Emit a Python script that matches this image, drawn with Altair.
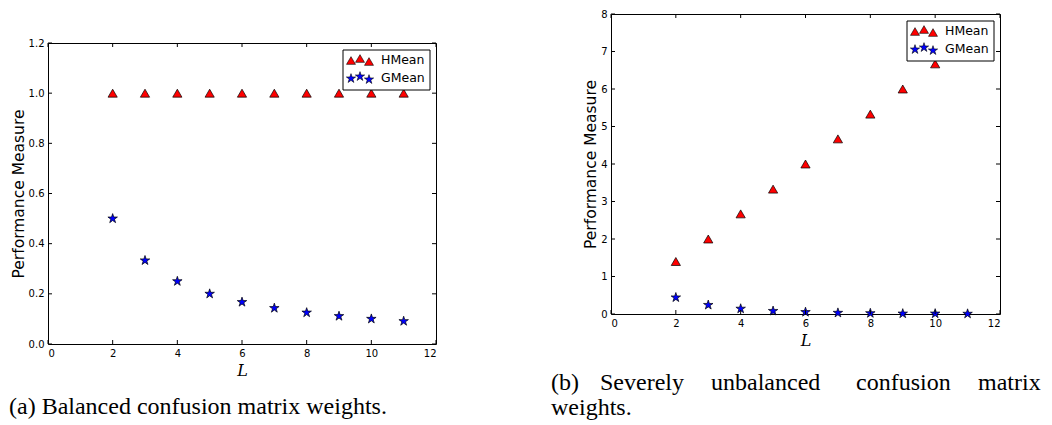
import altair as alt
import pandas as pd

# ---- data ----
L_vals = [2, 3, 4, 5, 6, 7, 8, 9, 10, 11]
hmean_a = [1.0, 1.0, 1.0, 1.0, 1.0, 1.0, 1.0, 1.0, 1.0, 1.0]
gmean_a = [0.5, 0.333, 0.25, 0.2, 0.167, 0.143, 0.125, 0.111, 0.1, 0.091]
hmean_b = [1.4, 2.0, 2.67, 3.33, 4.0, 4.67, 5.33, 6.0, 6.67, 7.33]
gmean_b = [0.44, 0.24, 0.14, 0.08, 0.05, 0.03, 0.02, 0.01, 0.01, 0.005]

x_ticks = [0, 2, 4, 6, 8, 10, 12]
y_ticks_a = [0.0, 0.2, 0.4, 0.6, 0.8, 1.0, 1.2]
y_ticks_b = [0, 1, 2, 3, 4, 5, 6, 7, 8]

STAR = ("M0,-1L0.2245,-0.309L0.9511,-0.309L0.3633,0.118L0.5878,0.809L0,0.382"
        "L-0.5878,0.809L-0.3633,0.118L-0.9511,-0.309L-0.2245,-0.309Z")

series_names = ["HMean", "GMean"]
series_shapes = ["triangle-up", STAR]
series_colors = ["#ff0000", "#0000ff"]

# caption words (b) line 1 is justified, so each word is placed on its own
caption_a = [("(a) Balanced confusion matrix weights.", -39, 0)]
caption_b = [("(b)", -60, 0), ("Severely", -11, 0), ("unbalanced", 100, 0),
             ("confusion", 245, 0), ("matrix", 367, 0), ("weights.", -60, 25)]

y_title = "Performance Measure"
x_title = "L"

SANS = "DejaVu Sans"
SERIF = "Liberation Serif"


def panel(hm, gm, ydom, yticks, yfmt, W, H, caption, cap_y0):
    xs = alt.Scale(domain=[0, 12], nice=False, zero=False)
    ys = alt.Scale(domain=ydom, nice=False, zero=False)
    xaxis = alt.Axis(values=x_ticks, title=x_title, format="d")
    yaxis = alt.Axis(values=yticks, title=y_title, format=yfmt)

    layers = []
    for name, vals, shp, col, sz in zip(series_names, [hm, gm], series_shapes,
                                        series_colors, [85, 100]):
        df = pd.DataFrame({"L": L_vals, "value": vals})
        layers.append(
            alt.Chart(df).mark_point(shape=shp, filled=True, fill=col, stroke="black",
                                     strokeWidth=0.7, size=sz, opacity=1)
            .encode(x=alt.X("L:Q", scale=xs, axis=xaxis),
                    y=alt.Y("value:Q", scale=ys, axis=yaxis))
        )

    # inward ticks on all four sides
    xt = pd.DataFrame({"L": x_ticks})
    yt = pd.DataFrame({"value": yticks})
    tk = dict(color="black", strokeWidth=1)
    layers.append(alt.Chart(xt).mark_rule(**tk).encode(
        x=alt.X("L:Q", scale=xs, axis=xaxis), y=alt.value(H), y2=alt.value(H - 4)))
    layers.append(alt.Chart(xt).mark_rule(**tk).encode(
        x=alt.X("L:Q", scale=xs, axis=xaxis), y=alt.value(0), y2=alt.value(4)))
    layers.append(alt.Chart(yt).mark_rule(**tk).encode(
        y=alt.Y("value:Q", scale=ys, axis=yaxis), x=alt.value(0), x2=alt.value(4)))
    layers.append(alt.Chart(yt).mark_rule(**tk).encode(
        y=alt.Y("value:Q", scale=ys, axis=yaxis), x=alt.value(W - 4), x2=alt.value(W)))

    one = pd.DataFrame({"a": [0]})
    # legend box
    bx0, bx1, by0, by1 = W - 93, W - 6, 7, 47
    layers.append(alt.Chart(one).mark_rect(fill="white", stroke="black", strokeWidth=1).encode(
        x=alt.value(bx0), x2=alt.value(bx1), y=alt.value(by0), y2=alt.value(by1)))
    offs = [0.5, -1.5, 1.5]
    for i, (name, shp, col, sz) in enumerate(zip(series_names, series_shapes,
                                                series_colors, [80, 95])):
        ry = by0 + 10 + 18 * i
        for j, dy in enumerate(offs):
            layers.append(alt.Chart(one).mark_point(shape=shp, filled=True, fill=col,
                                                    stroke="black", strokeWidth=0.6,
                                                    size=sz, opacity=1)
                          .encode(x=alt.value(bx0 + 8 + 9 * j), y=alt.value(ry + dy)))
        layers.append(alt.Chart(one).mark_text(text=name, font=SANS, fontSize=12.5,
                                               align="left", baseline="middle",
                                               color="black")
                      .encode(x=alt.value(bx0 + 38), y=alt.value(ry)))

    # caption
    for txt, cx, dy in caption:
        layers.append(alt.Chart(one).mark_text(text=txt, font=SERIF, fontSize=24,
                                               align="left", baseline="alphabetic",
                                               color="black")
                      .encode(x=alt.value(cx), y=alt.value(cap_y0 + dy)))

    return alt.layer(*layers).properties(width=W, height=H)


left_plot = panel(hmean_a, gmean_a, [0, 1.2], y_ticks_a, ".1f", 388, 301, caption_a, 371)
right = panel(hmean_b, gmean_b, [0, 8], y_ticks_b, "d", 389, 300, caption_b, 376)

spacer = alt.Chart(pd.DataFrame({"a": [0]})).mark_text(text=" ").encode(
    x=alt.value(0), y=alt.value(0)
).properties(width=388, height=18, view=alt.ViewBackground(strokeOpacity=0))

left = alt.vconcat(spacer, left_plot, spacing=5)

chart = alt.hconcat(left, right, spacing=113).configure_view(
    stroke="black", strokeWidth=1
).configure_axis(
    grid=False, domain=False, ticks=False,
    labelFont=SANS, labelFontSize=10, labelColor="black", labelPadding=4,
    titleFont=SANS, titleFontSize=15.5, titleFontWeight="normal", titleColor="black",
    titlePadding=5,
).configure_axisY(
    titlePadding=2
).configure_axisX(
    titleFont="DejaVu Serif", titleFontStyle="italic", titleFontSize=16, titlePadding=4
).properties(background="white", padding=0)

chart.save("out.html", embed_options={"renderer": "svg", "actions": False})
